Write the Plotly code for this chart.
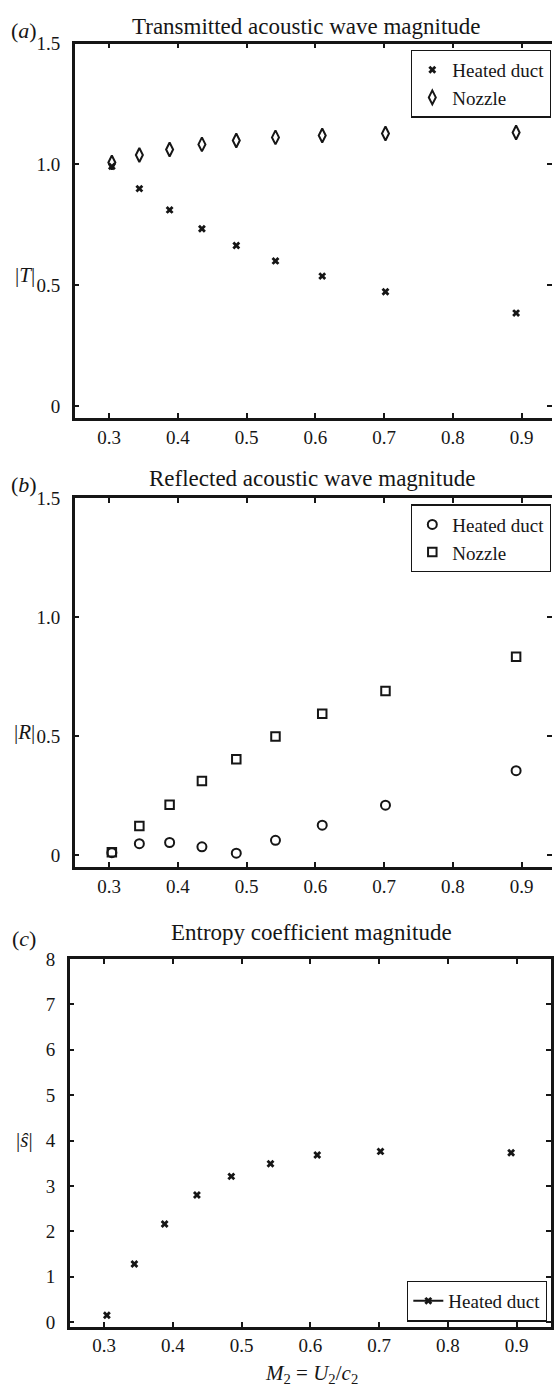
import plotly.graph_objects as go

# Mach number of the downstream flow (shared by all three panels)
mach = [0.304, 0.344, 0.388, 0.435, 0.485, 0.542, 0.610, 0.702, 0.892]

# (a) transmitted acoustic wave magnitude |T|
t_heated = [0.992, 0.900, 0.812, 0.734, 0.665, 0.601, 0.538, 0.473, 0.385]
t_nozzle = [1.008, 1.039, 1.062, 1.083, 1.099, 1.112, 1.120, 1.128, 1.132]

# (b) reflected acoustic wave magnitude |R|
r_heated = [0.010, 0.048, 0.053, 0.035, 0.008, 0.062, 0.126, 0.210, 0.355]
r_nozzle = [0.012, 0.122, 0.212, 0.312, 0.403, 0.499, 0.594, 0.690, 0.834]

# (c) entropy coefficient magnitude |s|
s_heated = [0.15, 1.28, 2.16, 2.80, 3.21, 3.49, 3.68, 3.76, 3.73]

x_ticks = [0.3, 0.4, 0.5, 0.6, 0.7, 0.8, 0.9]
ab_y_ticks = [0, 0.5, 1.0, 1.5]
ab_y_text = ["0", "0.5", "1.0", "1.5"]
c_y_ticks = [0, 1, 2, 3, 4, 5, 6, 7, 8]

W, H = 554, 1388
SERIF = "Liberation Serif"
INK = "#161616"


def fx(p):
    return p / W


def fy(p):
    return 1 - p / H


# pixel frames of the three axes boxes: left, right, top, bottom
frames = {
    "a": (75, 554, 34, 413),
    "b": (75, 554, 494, 867),
    "c": (70, 553, 960, 1332),
}

fig = go.Figure()

x_mark = dict(symbol="x", size=7, color=INK, line=dict(width=0))

# panel (a)
fig.add_trace(go.Scatter(x=mach, y=t_heated, mode="markers", name="Heated duct",
                         marker=x_mark, xaxis="x", yaxis="y", legend="legend"))
fig.add_trace(go.Scatter(x=mach, y=t_nozzle, mode="markers", name="Nozzle",
                         marker=dict(symbol="diamond-tall-open", size=10, color=INK,
                                     line=dict(width=2, color=INK)),
                         xaxis="x", yaxis="y", legend="legend"))
# panel (b)
fig.add_trace(go.Scatter(x=mach, y=r_heated, mode="markers", name="Heated duct",
                         marker=dict(symbol="circle-open", size=9, color=INK,
                                     line=dict(width=2, color=INK)),
                         xaxis="x2", yaxis="y2", legend="legend2"))
fig.add_trace(go.Scatter(x=mach, y=r_nozzle, mode="markers", name="Nozzle",
                         marker=dict(symbol="square-open", size=8.5, color=INK,
                                     line=dict(width=2, color=INK)),
                         xaxis="x2", yaxis="y2", legend="legend2"))
# panel (c)
fig.add_trace(go.Scatter(x=mach, y=s_heated, mode="markers", name="Heated duct",
                         marker=x_mark, xaxis="x3", yaxis="y3", showlegend=False))
fig.add_trace(go.Scatter(x=[None], y=[None], mode="lines+markers", name="Heated duct",
                         marker=x_mark, line=dict(color=INK, width=2),
                         xaxis="x3", yaxis="y3", legend="legend3"))
# right-hand tick rows for panels (a) and (b)
for ya, xa in (("y4", "x"), ("y5", "x2")):
    fig.add_trace(go.Scatter(x=[None], y=[None], mode="markers", xaxis=xa, yaxis=ya,
                             showlegend=False, hoverinfo="skip"))

tick_font = dict(family=SERIF, size=19, color=INK)
common = dict(showgrid=False, zeroline=False, ticks="inside", ticklen=5, tickwidth=1.5,
              tickcolor=INK, linecolor=INK, linewidth=2.5, tickfont=tick_font)

layout_axes = {}
for key, xname, yname in (("a", "xaxis", "yaxis"), ("b", "xaxis2", "yaxis2"),
                          ("c", "xaxis3", "yaxis3")):
    l, r, t, b = frames[key]
    ysfx = yname.replace("yaxis", "y") or "y"
    xsfx = xname.replace("xaxis", "x") or "x"
    if key == "c":
        xr = [0.25, 0.95]
        yr = [-0.1, 8]
        yt, ytt = c_y_ticks, [str(v) for v in c_y_ticks]
        ymirror = "ticks"
    else:
        xr = [0.25, 0.25 + (r - l) / 690.0]
        yr = [-0.05, 1.5]
        yt, ytt = ab_y_ticks, ab_y_text
        ymirror = False
    layout_axes[xname] = dict(common, domain=[fx(l), fx(r)], range=xr, anchor=ysfx,
                              tickvals=x_ticks, ticktext=[f"{v:.1f}" for v in x_ticks],
                              showline=True, mirror="ticks", ticklabelstandoff=0)
    layout_axes[yname] = dict(common, domain=[fy(b), fy(t)], range=yr, anchor=xsfx,
                              tickvals=yt, ticktext=ytt, showline=True, mirror=ymirror,
                              ticklabelstandoff=8)

layout_axes["yaxis4"] = dict(common, overlaying="y", side="right", anchor="x",
                             range=[-0.05, 1.5], tickvals=ab_y_ticks,
                             showticklabels=False, showline=False)
layout_axes["yaxis5"] = dict(common, overlaying="y2", side="right", anchor="x2",
                             range=[-0.05, 1.5], tickvals=ab_y_ticks,
                             showticklabels=False, showline=False)

legend_style = dict(font=dict(family=SERIF, size=19, color=INK), bgcolor="white",
                    bordercolor=INK, borderwidth=1.3, itemwidth=30, tracegroupgap=0,
                    xanchor="right", itemclick=False)

annotations = []


def text(x, y, s, size, **kw):
    annotations.append(dict(x=fx(x), y=fy(y), xref="paper", yref="paper", text=s,
                            showarrow=False, font=dict(family=SERIF, size=size, color=INK),
                            xanchor=kw.get("xanchor", "center"),
                            yanchor=kw.get("yanchor", "middle")))


text(308, 17, "Transmitted acoustic wave magnitude", 23)
text(313, 474, "Reflected acoustic wave magnitude", 23)
text(313, 933, "Entropy coefficient magnitude", 23)
text(24, 21, "(<i>a</i>)", 22)
text(24, 480, "(<i>b</i>)", 22)
text(24, 939, "(<i>c</i>)", 22)
text(25, 268, "|<i>T</i>|", 21)
text(25, 730, "|<i>R</i>|", 21)
text(25, 1143, "|<i>ŝ</i>|", 21)
text(313, 1365, "<i>M</i><sub>2</sub> = <i>U</i><sub>2</sub>/<i>c</i><sub>2</sub>", 21,
     yanchor="top")

fig.update_layout(
    width=W, height=H, margin=dict(l=0, r=0, t=0, b=0),
    paper_bgcolor="white", plot_bgcolor="white",
    annotations=annotations,
    legend=dict(legend_style, x=fx(553), y=fy(40), yanchor="top"),
    legend2=dict(legend_style, x=fx(553), y=fy(500), yanchor="top"),
    legend3=dict(legend_style, x=fx(549), y=fy(1327), yanchor="bottom"),
    **layout_axes,
)

fig.write_html("out.html")
